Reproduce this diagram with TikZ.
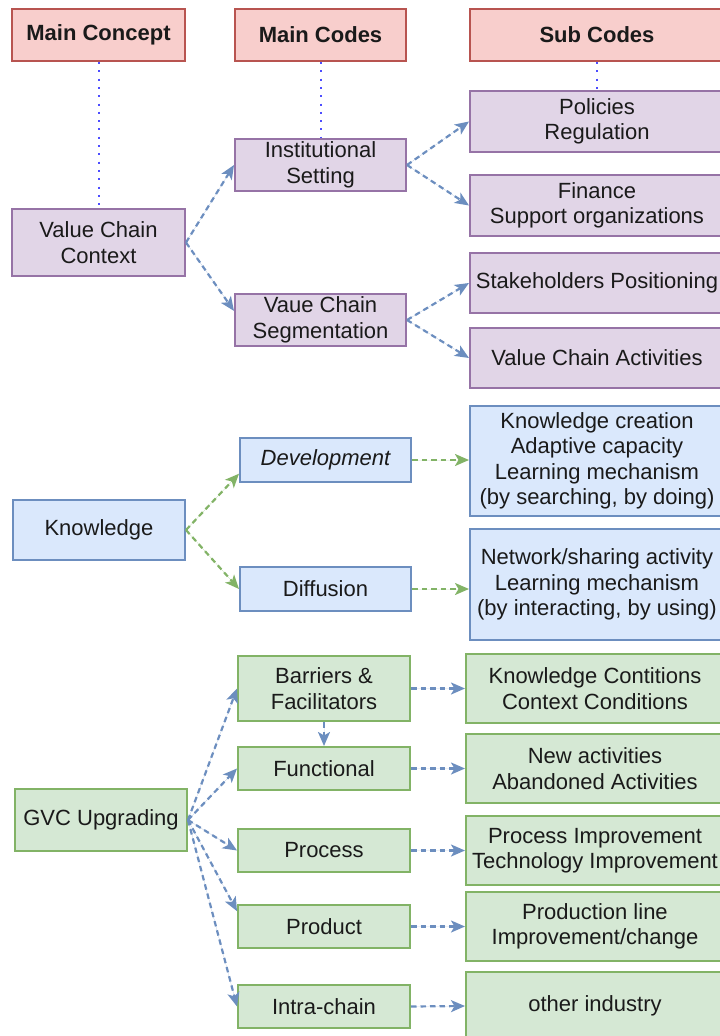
\documentclass[tikz,border=0pt]{standalone}
\usepackage{fontspec}
\setmainfont{Liberation Sans}
\usetikzlibrary{arrows.meta}

\definecolor{hdrfill}{HTML}{F8CECC}
\definecolor{hdrline}{HTML}{B85450}
\definecolor{purfill}{HTML}{E1D5E7}
\definecolor{purline}{HTML}{9673A6}
\definecolor{blufill}{HTML}{DAE8FC}
\definecolor{bluline}{HTML}{6C8EBF}
\definecolor{grnfill}{HTML}{D5E8D4}
\definecolor{grnline}{HTML}{82B366}
\definecolor{dotblue}{HTML}{4D4DFF}
\definecolor{txt}{HTML}{1A1A1A}

\tikzset{
  box/.style={draw, rectangle, line width=2pt, inner sep=0pt, align=center,
    text=txt, font=\fontsize{22}{25.5}\selectfont},
  hdr/.style={box, fill=hdrfill, draw=hdrline, font=\fontsize{22}{25.5}\selectfont\bfseries},
  pur/.style={box, fill=purfill, draw=purline},
  blu/.style={box, fill=blufill, draw=bluline},
  grn/.style={box, fill=grnfill, draw=grnline},
  sz/.style n args={2}{minimum width=#1pt, minimum height=#2pt},
  link/.style={line width=2.2pt, dash pattern=on 5.5pt off 4pt,
    -{Stealth[length=14pt, width=12pt, inset=3.5pt]}},
  bluelink/.style={link, draw=bluline, fill=bluline},
  greenlink/.style={link, draw=grnline, fill=grnline},
  guide/.style={draw=dotblue, line width=2pt, dash pattern=on 2pt off 6.3pt}
}

\begin{document}
\begin{tikzpicture}[x=1pt, y=-1pt]
\useasboundingbox (0,0) rectangle (720,1036);

% column headers
\node[hdr, sz={173}{52}] (mc) at (98.5,35) {Main Concept};
\node[hdr, sz={171}{52}] (mcodes) at (320.5,35) {Main Codes};
\node[hdr, sz={254}{52}] (sc) at (597,35) {Sub Codes};

% value chain context
\node[pur, sz={173}{67}] (vcc) at (98.5,242.5) {Value Chain\\Context};
\node[pur, sz={171}{52}] (inst) at (320.5,165) {Institutional\\Setting};
\node[pur, sz={171}{52}] (seg) at (320.5,320) {Vaue Chain\\Segmentation};
\node[pur, sz={254}{61}] (pol) at (597,121.5) {Policies\\Regulation};
\node[pur, sz={254}{61}] (fin) at (597,205.5) {Finance\\Support organizations};
\node[pur, sz={254}{60}] (stake) at (597,283) {Stakeholders Positioning};
\node[pur, sz={254}{60}] (vca) at (597,358) {Value Chain Activities};

% knowledge
\node[blu, sz={172}{60}] (know) at (99,530) {Knowledge};
\node[blu, sz={171}{44}] (dev) at (325.5,460) {\itshape Development};
\node[blu, sz={171}{44}] (diff) at (325.5,589) {Diffusion};
\node[blu, sz={254}{110}] (kc) at (597,461) {Knowledge creation\\Adaptive capacity\\Learning mechanism\\(by searching, by doing)};
\node[blu, sz={254}{111}] (net) at (597,584.5) {Network/sharing activity\\Learning mechanism\\(by interacting, by using)};

% GVC upgrading
\node[grn, sz={172}{62}] (gvc) at (101,820) {GVC Upgrading};
\node[grn, sz={172}{65}] (bar) at (324,688.5) {Barriers \&\\Facilitators};
\node[grn, sz={172}{43}] (fun) at (324,768.5) {Functional};
\node[grn, sz={172}{43}] (proc) at (324,850.5) {Process};
\node[grn, sz={172}{43}] (prod) at (324,926.5) {Product};
\node[grn, sz={172}{43}] (intra) at (324,1006.5) {Intra-chain};
\node[grn, sz={258}{69}] (kcond) at (595,688.5) {Knowledge Contitions\\Context Conditions};
\node[grn, sz={258}{69}] (newact) at (595,768.5) {New activities\\Abandoned Activities};
\node[grn, sz={258}{69}] (procimp) at (595,850.5) {Process Improvement\\Technology Improvement};
\node[grn, sz={258}{69}] (prodline) at (595,926.5) {Production line\\Improvement/change};
\node[grn, sz={258}{68}] (other) at (595,1006) {other industry};

% dotted column guides
\draw[guide] (mc.south) -- (vcc.north);
\draw[guide] (mcodes.south) -- (inst.north);
\draw[guide] (sc.south) -- (pol.north);

% value chain context links
\draw[bluelink] (vcc.east) -- (inst.west);
\draw[bluelink] (vcc.east) -- (seg.174);
\draw[bluelink] (inst.east) -- (pol.west);
\draw[bluelink] (inst.east) -- (fin.west);
\draw[bluelink] (seg.east) -- (stake.west);
\draw[bluelink] (seg.east) -- (vca.west);

% knowledge links
\draw[greenlink] (know.east) -- (dev.189);
\draw[greenlink] (know.east) -- (diff.west);
\draw[greenlink] (dev.east) -- (dev.east -| kc.west);
\draw[greenlink] (diff.east) -- (diff.east -| net.west);

% GVC upgrading links
\draw[bluelink] (gvc.east) -- (bar.west);
\draw[bluelink] (gvc.east) -- (fun.west);
\draw[bluelink] (gvc.east) -- (proc.west);
\draw[bluelink] (gvc.east) -- (prod.170);
\draw[bluelink] (gvc.east) -- (intra.west);
\draw[bluelink] (bar.south) -- (fun.north);
\draw[bluelink] (bar.east) -- (kcond.west);
\draw[bluelink] (fun.east) -- (newact.west);
\draw[bluelink] (proc.east) -- (procimp.west);
\draw[bluelink] (prod.east) -- (prodline.west);
\draw[bluelink] (intra.east) -- (other.west);
\end{tikzpicture}
\end{document}
